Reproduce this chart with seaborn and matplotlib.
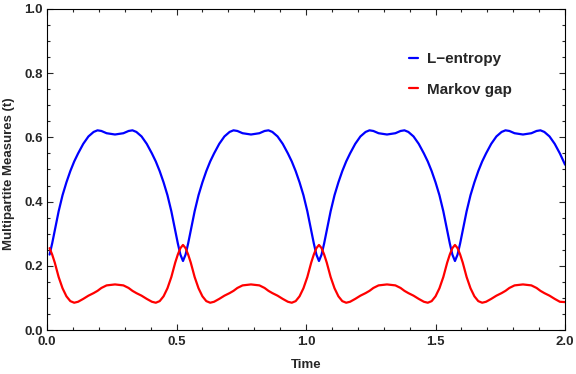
"""
L-entropy and Markov gap over time, redrawn in a Mathematica-like frame.
"""

import numpy as np
import pandas as pd
import matplotlib
matplotlib.use("Agg")
import matplotlib.pyplot as plt
import seaborn as sns
from matplotlib.ticker import MultipleLocator
from matplotlib.lines import Line2D


# ═══════════════════════════════════════════════════════════════════════
# Data
# ═══════════════════════════════════════════════════════════════════════

time = [
    0.01, 0.02, 0.03, 0.045, 0.06, 0.075, 0.09, 0.105, 0.12, 0.14, 0.16,
    0.18, 0.195, 0.21, 0.23, 0.2625, 0.295, 0.315, 0.33, 0.345, 0.365,
    0.385, 0.405, 0.42, 0.435, 0.45, 0.465, 0.48, 0.495, 0.505, 0.515,
    0.525, 0.535, 0.545, 0.555, 0.57, 0.585, 0.6, 0.615, 0.63, 0.645,
    0.665, 0.685, 0.705, 0.72, 0.735, 0.755, 0.7875, 0.82, 0.84, 0.855,
    0.87, 0.89, 0.91, 0.93, 0.945, 0.96, 0.975, 0.99, 1.005, 1.02, 1.03,
    1.04,
    1.05, 1.06, 1.07, 1.08, 1.095, 1.11, 1.125, 1.14, 1.155, 1.17, 1.19,
    1.21, 1.23, 1.245, 1.26, 1.28, 1.3125, 1.345, 1.365, 1.38, 1.395,
    1.415, 1.435, 1.455, 1.47, 1.485, 1.5, 1.515, 1.53, 1.545, 1.555,
    1.565,
    1.575, 1.585, 1.595, 1.605, 1.62, 1.635, 1.65, 1.665, 1.68, 1.695,
    1.715, 1.735, 1.755, 1.77, 1.785, 1.805, 1.8375, 1.87, 1.89, 1.905,
    1.92, 1.94, 1.96, 1.98, 2.0,
]

l_entropy = [
    0.235, 0.27, 0.31, 0.37, 0.42, 0.46, 0.495, 0.525, 0.55, 0.58, 0.603,
    0.617, 0.622, 0.62, 0.613, 0.609, 0.613, 0.62, 0.622, 0.617, 0.603,
    0.58, 0.55, 0.525, 0.495, 0.46, 0.42, 0.37, 0.31, 0.27, 0.235,
    0.215, 0.235, 0.27, 0.31, 0.37, 0.42, 0.46, 0.495, 0.525, 0.55,
    0.58, 0.603, 0.617, 0.622, 0.62, 0.613, 0.609, 0.613, 0.62, 0.622,
    0.617, 0.603, 0.58, 0.55, 0.525, 0.495, 0.46, 0.42, 0.37, 0.31, 0.27,
    0.235,
    0.215, 0.235, 0.27, 0.31, 0.37, 0.42, 0.46, 0.495, 0.525, 0.55, 0.58,
    0.603, 0.617, 0.622, 0.62, 0.613, 0.609, 0.613, 0.62, 0.622, 0.617,
    0.603, 0.58, 0.55, 0.525, 0.495, 0.46, 0.42, 0.37, 0.31, 0.27,
    0.235,
    0.215, 0.235, 0.27, 0.31, 0.37, 0.42, 0.46, 0.495, 0.525, 0.55,
    0.58, 0.603, 0.617, 0.622, 0.62, 0.613, 0.609, 0.613, 0.62, 0.622,
    0.617, 0.603, 0.58, 0.55, 0.515,
]

markov_gap = [
    0.255, 0.235, 0.21, 0.165, 0.13, 0.105, 0.09, 0.085, 0.088, 0.097,
    0.107, 0.115, 0.122, 0.131, 0.139, 0.142, 0.139, 0.131, 0.122, 0.115,
    0.107, 0.097, 0.088, 0.085, 0.09, 0.105, 0.13, 0.165, 0.21, 0.235,
    0.255,
    0.265, 0.255, 0.235, 0.21, 0.165, 0.13, 0.105, 0.09, 0.085, 0.088,
    0.097, 0.107, 0.115, 0.122, 0.131, 0.139, 0.142, 0.139, 0.131, 0.122,
    0.115, 0.107, 0.097, 0.088, 0.085, 0.09, 0.105, 0.13, 0.165, 0.21,
    0.235, 0.255,
    0.265, 0.255, 0.235, 0.21, 0.165, 0.13, 0.105, 0.09, 0.085, 0.088,
    0.097, 0.107, 0.115, 0.122, 0.131, 0.139, 0.142, 0.139, 0.131, 0.122,
    0.115, 0.107, 0.097, 0.088, 0.085, 0.09, 0.105, 0.13, 0.165, 0.21,
    0.235, 0.255,
    0.265, 0.255, 0.235, 0.21, 0.165, 0.13, 0.105, 0.09, 0.085, 0.088,
    0.097, 0.107, 0.115, 0.122, 0.131, 0.139, 0.142, 0.139, 0.131, 0.122,
    0.115, 0.107, 0.097, 0.088, 0.087,
]

series_names = ["L\u2212entropy", "Markov gap"]
series_colors = ["#0000ff", "#ff0000"]


# ═══════════════════════════════════════════════════════════════════════
# Plot
# ═══════════════════════════════════════════════════════════════════════

sns.set_style("ticks")
plt.rcParams["font.family"] = ["Liberation Sans", "DejaVu Sans"]
plt.rcParams["font.weight"] = "bold"

df = pd.concat([
    pd.DataFrame({"Time": time, "value": l_entropy, "series": series_names[0]}),
    pd.DataFrame({"Time": time, "value": markov_gap, "series": series_names[1]}),
])

fig = plt.figure(figsize=(5.76, 3.74), dpi=100)
ax = fig.add_axes([0.0816, 0.1176, 0.8994, 0.8584])

sns.lineplot(
    data=df, x="Time", y="value", hue="series",
    palette=dict(zip(series_names, series_colors)),
    linewidth=1.6, ax=ax, legend=False, sort=False,
)

ax.set_xlim(0, 2)
ax.set_ylim(0, 1)
ax.xaxis.set_major_locator(MultipleLocator(0.5))
ax.xaxis.set_minor_locator(MultipleLocator(0.1))
ax.yaxis.set_major_locator(MultipleLocator(0.2))
ax.yaxis.set_minor_locator(MultipleLocator(0.05))
ax.xaxis.set_major_formatter(plt.FormatStrFormatter("%.1f"))
ax.yaxis.set_major_formatter(plt.FormatStrFormatter("%.1f"))

ax.tick_params(which="both", direction="in", top=True, right=True,
               labelsize=9.5, width=0.8)
ax.tick_params(which="major", length=4)
ax.tick_params(which="minor", length=2.2)
ax.tick_params(axis="x", pad=4)
ax.tick_params(axis="y", pad=3)
for lab in ax.get_xticklabels() + ax.get_yticklabels():
    lab.set_fontweight("bold")
for spine in ax.spines.values():
    spine.set_visible(True)
    spine.set_linewidth(0.8)
    spine.set_color("black")

ax.set_xlabel("Time", fontsize=9.5, fontweight="bold")
ax.set_ylabel("Multipartite Measures (t)", fontsize=9.5, fontweight="bold")
ax.xaxis.set_label_coords(0.5, -0.09)
ax.yaxis.set_label_coords(-0.062, 0.486)

handles = [Line2D([], [], color=c, linewidth=1.6) for c in series_colors]
ax.legend(handles, series_names, loc="upper left",
          bbox_to_anchor=(0.672, 0.909), frameon=False, handlelength=0.6,
          handletextpad=0.6, labelspacing=1.1,
          prop={"weight": "bold", "size": 11})

fig.savefig("out.png", dpi=100)
